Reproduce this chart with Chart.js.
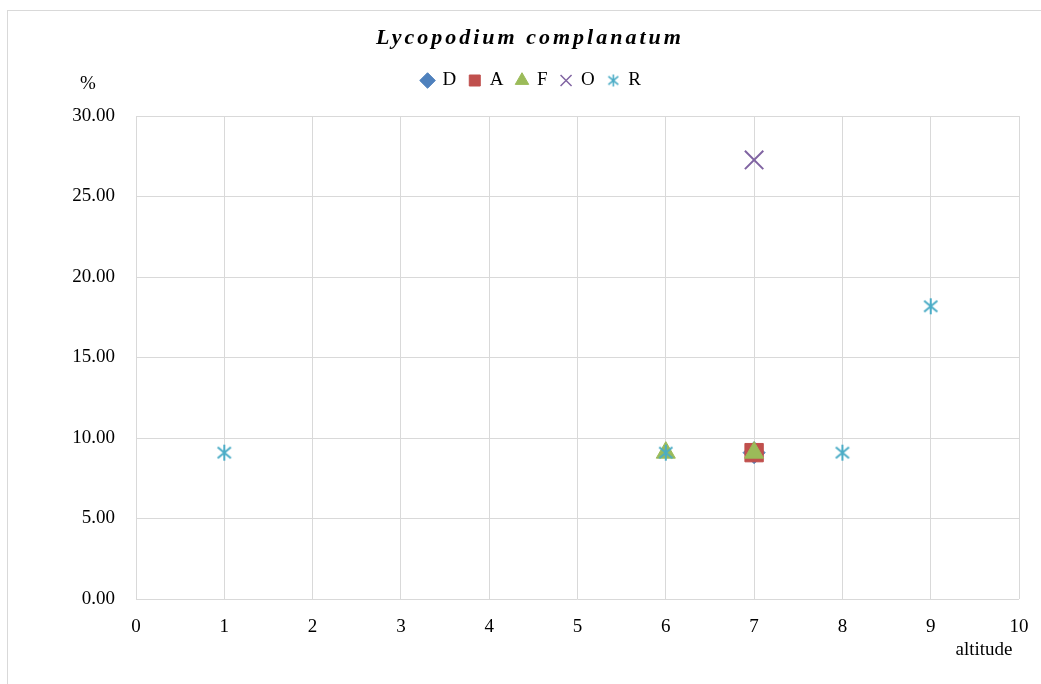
<!DOCTYPE html>
<html>
<head>
<meta charset="utf-8">
<script src="https://cdn.jsdelivr.net/npm/chart.js@4"></script>
<style>
  html, body { margin: 0; padding: 0; background: #fff; }
  #wrap { width: 1041px; height: 684px; }
</style>
</head>
<body>
<div id="wrap"><canvas id="myChart" width="1041" height="684"></canvas></div>
<script>
// data (altitude class, %)
const seriesNames = ['D', 'A', 'F', 'O', 'R'];
const dX = [7], dY = [9.09];
const aX = [7], aY = [9.09];
const fX = [6, 7], fY = [9.09, 9.09];
const oX = [7], oY = [27.27];
const rX = [1, 6, 8, 9], rY = [9.09, 9.09, 9.09, 18.18];
const yTicks = [0, 5, 10, 15, 20, 25, 30];
const xTicks = [0, 1, 2, 3, 4, 5, 6, 7, 8, 9, 10];

const serif = '"Liberation Serif", "Times New Roman", serif';
const colors = ['#4F81BD', '#C0504D', '#9BBB59', '#8064A2', '#4BACC6'];

function pts(xs, ys) {
    return xs.map(function (x, i) { return { x: x, y: ys[i] }; });
}

// excel style asterisk marker: vertical stroke + two diagonals
function makeStar(w, h, color, lw) {
    const c = document.createElement('canvas');
    c.width = w; c.height = h;
    const g = c.getContext('2d');
    g.strokeStyle = color;
    g.lineWidth = lw;
    const cx = w / 2, cy = h / 2;
    g.beginPath();
    g.moveTo(cx, 1); g.lineTo(cx, h - 1);
    g.moveTo(cx - w * 0.33, cy - h * 0.3); g.lineTo(cx + w * 0.33, cy + h * 0.3);
    g.moveTo(cx - w * 0.33, cy + h * 0.3); g.lineTo(cx + w * 0.33, cy - h * 0.3);
    g.stroke();
    return c;
}
const starBig = makeStar(20, 18, colors[4], 2);
const starSmall = makeStar(15, 14, colors[4], 1.6);

const decor = {
    id: 'decor',
    beforeInit: function (chart) {
        // give the legend box some extra room below it
        const legend = chart.legend;
        if (legend) {
            const origFit = legend.fit;
            legend.fit = function () {
                origFit.call(this);
                this.height += 16;
            };
        }
    },
    beforeDraw: function (chart) {
        const ctx = chart.ctx;
        ctx.save();
        ctx.fillStyle = '#fff';
        ctx.fillRect(0, 0, chart.width, chart.height);
        ctx.strokeStyle = '#d9d9d9';
        ctx.lineWidth = 1;
        ctx.strokeRect(7.5, 10.5, chart.width, chart.height);
        ctx.restore();
    },
    afterDraw: function (chart) {
        const ctx = chart.ctx;
        ctx.save();
        ctx.fillStyle = '#000';
        ctx.textBaseline = 'middle';
        ctx.font = 'italic bold 22px ' + serif;
        ctx.letterSpacing = '3px';
        ctx.textAlign = 'center';
        ctx.fillText('Lycopodium complanatum', 530, 38);
        ctx.letterSpacing = '0px';
        ctx.font = '19px ' + serif;
        ctx.fillText('%', 88, 84);
        ctx.fillText('altitude', 984, 650);
        ctx.restore();
    }
};

const ctx = document.getElementById('myChart').getContext('2d');
const myChart = new Chart(ctx, {
    type: 'scatter',
    data: {
        datasets: [
            { label: seriesNames[0], data: pts(dX, dY), pointStyle: 'rectRot', pointRadius: 11,
              backgroundColor: colors[0], borderColor: colors[0], borderWidth: 1, order: 5 },
            { label: seriesNames[1], data: pts(aX, aY), pointStyle: 'rect', pointRadius: 13,
              backgroundColor: colors[1], borderColor: colors[1], borderWidth: 1, order: 4 },
            { label: seriesNames[2], data: pts(fX, fY), pointStyle: 'triangle', pointRadius: 11,
              backgroundColor: colors[2], borderColor: colors[2], borderWidth: 1, order: 3 },
            { label: seriesNames[3], data: pts(oX, oY), pointStyle: 'crossRot', pointRadius: 13,
              backgroundColor: colors[3], borderColor: colors[3], borderWidth: 2, order: 2 },
            { label: seriesNames[4], data: pts(rX, rY), pointStyle: starBig, pointRadius: 10,
              backgroundColor: colors[4], borderColor: colors[4], borderWidth: 2, order: 1 }
        ]
    },
    options: {
        responsive: false,
        animation: false,
        events: [],
        layout: { padding: { top: 58, left: 44, right: 22, bottom: 0 } },
        plugins: {
            title: { display: false },
            tooltip: { enabled: false },
            legend: {
                position: 'top',
                labels: {
                    usePointStyle: true,
                    boxWidth: 11,
                    boxHeight: 11,
                    padding: 13,
                    color: '#000',
                    font: { family: serif, size: 19 },
                    sort: function (a, b) { return a.datasetIndex - b.datasetIndex; },
                    generateLabels: function (chart) {
                        const items = Chart.defaults.plugins.legend.labels.generateLabels(chart);
                        items.forEach(function (it) {
                            if (it.datasetIndex === 4) it.pointStyle = starSmall;
                            if (it.datasetIndex === 3) it.lineWidth = 1.5;
                        });
                        return items;
                    }
                }
            }
        },
        scales: {
            x: {
                type: 'linear',
                min: xTicks[0],
                max: xTicks[xTicks.length - 1],
                afterBuildTicks: function (scale) {
                    scale.ticks = xTicks.map(function (v) { return { value: v }; });
                },
                afterFit: function (scale) {
                    scale.height = 85;
                    scale.paddingLeft = 0;
                    scale.paddingRight = 0;
                },
                grid: { color: '#d9d9d9', lineWidth: 1, drawTicks: false },
                border: { display: false },
                ticks: {
                    padding: 17,
                    color: '#000',
                    font: { family: serif, size: 19 },
                    callback: function (v) { return String(v); }
                }
            },
            y: {
                type: 'linear',
                min: yTicks[0],
                max: yTicks[yTicks.length - 1],
                afterBuildTicks: function (scale) {
                    scale.ticks = yTicks.map(function (v) { return { value: v }; });
                },
                afterFit: function (scale) { scale.width = 92; },
                grid: { color: '#d9d9d9', lineWidth: 1, drawTicks: false },
                border: { display: false },
                ticks: {
                    padding: 21,
                    color: '#000',
                    font: { family: serif, size: 19 },
                    callback: function (v) { return Number(v).toFixed(2); }
                }
            }
        }
    },
    plugins: [decor]
});
</script>
</body>
</html>
